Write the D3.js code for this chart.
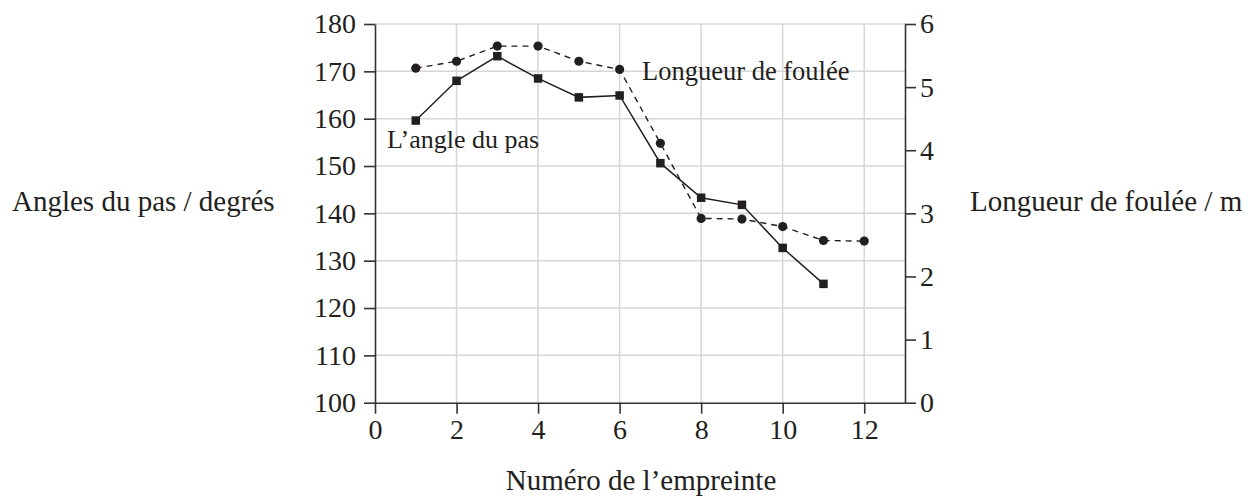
<!DOCTYPE html>
<html>
<head>
<meta charset="utf-8">
<script src="https://cdn.jsdelivr.net/npm/d3@7"></script>
<style>
  html, body { margin: 0; padding: 0; background: #fff; }
  svg text { font-family: "Liberation Serif", "Times New Roman", Times, "DejaVu Serif", serif; fill: #231f20; }
</style>
</head>
<body>
<svg id="chart" width="1248" height="497"></svg>
<script>
// footprint numbers
const footprints = [1, 2, 3, 4, 5, 6, 7, 8, 9, 10, 11, 12]
// step angle (degrees), left axis
const stepAngle = [159.6, 168.0, 173.2, 168.5, 164.5, 164.9, 150.6, 143.3, 141.8, 132.7, 125.1]
// stride length (m), right axis
const strideLength = [5.30, 5.41, 5.65, 5.65, 5.41, 5.28, 4.11, 2.92, 2.91, 2.79, 2.57, 2.56]

const xTicks = [0, 2, 4, 6, 8, 10, 12]
const leftTicks = [100, 110, 120, 130, 140, 150, 160, 170, 180]
const rightTicks = [0, 1, 2, 3, 4, 5, 6]

const serif = '"Liberation Serif", "Times New Roman", Times, serif'

const svg = d3.select('#chart')

const plot = { left: 375, right: 905, top: 24, bottom: 402.7 }

const x = d3.scaleLinear().domain([0, 13]).range([plot.left, plot.right])
const yLeft = d3.scaleLinear().domain([100, 180]).range([plot.bottom, plot.top])
const yRight = d3.scaleLinear().domain([0, 6]).range([plot.bottom, plot.top])

const ink = '#231f20'
const axisInk = '#333'
const gridInk = '#d6d6d6'

// grid
svg.append('g')
  .selectAll('line')
  .data(leftTicks.slice(1))
  .join('line')
  .attr('x1', plot.left).attr('x2', plot.right)
  .attr('y1', d => yLeft(d)).attr('y2', d => yLeft(d))
  .attr('stroke', gridInk).attr('stroke-width', 1.5)

svg.append('g')
  .selectAll('line')
  .data(xTicks.slice(1))
  .join('line')
  .attr('x1', d => x(d)).attr('x2', d => x(d))
  .attr('y1', plot.top).attr('y2', plot.bottom)
  .attr('stroke', gridInk).attr('stroke-width', 1.5)

function styleAxis (g) {
  g.attr('font-family', serif).attr('font-size', 28)
  g.select('.domain').attr('stroke', axisInk).attr('stroke-width', 1.6)
  g.selectAll('.tick line').attr('stroke', axisInk).attr('stroke-width', 1.6)
  g.selectAll('.tick text').attr('fill', ink)
}

// axes
svg.append('g')
  .attr('transform', `translate(0,${plot.bottom})`)
  .call(d3.axisBottom(x).tickValues(xTicks).tickSize(11).tickPadding(5).tickSizeOuter(0))
  .call(styleAxis)

svg.append('g')
  .attr('transform', `translate(${plot.left},0)`)
  .call(d3.axisLeft(yLeft).tickValues(leftTicks).tickSize(11).tickPadding(8).tickSizeOuter(0))
  .call(styleAxis)

svg.append('g')
  .attr('transform', `translate(${plot.right},0)`)
  .call(d3.axisRight(yRight).tickValues(rightTicks).tickFormat(d3.format('d')).tickSize(11).tickPadding(4).tickSizeOuter(0))
  .call(styleAxis)

// series
const angleData = stepAngle.map((v, i) => [footprints[i], v])
const strideData = strideLength.map((v, i) => [footprints[i], v])

svg.append('path')
  .datum(strideData)
  .attr('fill', 'none')
  .attr('stroke', ink)
  .attr('stroke-width', 1.4)
  .attr('stroke-dasharray', '6,5')
  .attr('d', d3.line().x(d => x(d[0])).y(d => yRight(d[1])))

svg.append('path')
  .datum(angleData)
  .attr('fill', 'none')
  .attr('stroke', ink)
  .attr('stroke-width', 1.5)
  .attr('d', d3.line().x(d => x(d[0])).y(d => yLeft(d[1])))

svg.append('g')
  .selectAll('circle')
  .data(strideData)
  .join('circle')
  .attr('cx', d => x(d[0]))
  .attr('cy', d => yRight(d[1]))
  .attr('r', 4.6)
  .attr('fill', ink)

const sq = 8.5
svg.append('g')
  .selectAll('rect')
  .data(angleData)
  .join('rect')
  .attr('x', d => x(d[0]) - sq / 2)
  .attr('y', d => yLeft(d[1]) - sq / 2)
  .attr('width', sq)
  .attr('height', sq)
  .attr('fill', ink)

// annotations
svg.append('text')
  .attr('x', 387).attr('y', 148)
  .attr('font-size', 26)
  .text('L’angle du pas')

svg.append('text')
  .attr('x', 642).attr('y', 80)
  .attr('font-size', 26.5)
  .text('Longueur de foulée')

// axis titles
svg.append('text')
  .attr('x', 12).attr('y', 211)
  .attr('font-size', 29)
  .text('Angles du pas / degrés')

svg.append('text')
  .attr('x', 970).attr('y', 211)
  .attr('font-size', 29)
  .text('Longueur de foulée / m')

svg.append('text')
  .attr('x', 641).attr('y', 490)
  .attr('text-anchor', 'middle')
  .attr('font-size', 29)
  .text('Numéro de l’empreinte')
</script>
</body>
</html>
